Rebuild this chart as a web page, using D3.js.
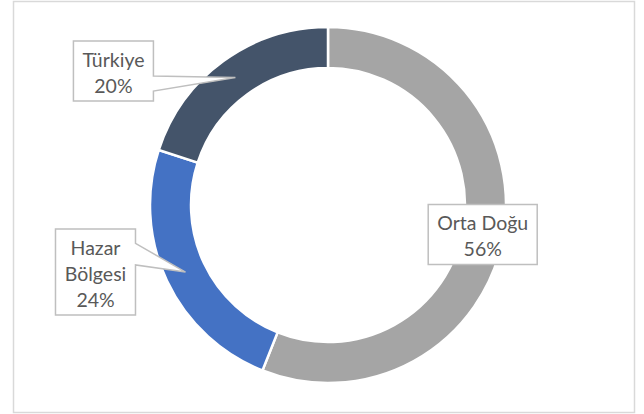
<!DOCTYPE html>
<html>
<head>
<meta charset="utf-8">
<script src="https://cdn.jsdelivr.net/npm/d3@7"></script>
<style>
  body { margin: 0; background: #fff; }
  svg { display: block; }
  .lbl text { font-family: Lato, "Open Sans", sans-serif; font-size: 19.5px; fill: #595959; }
</style>
</head>
<body>
<div class="chart"></div>
<script>
// data
const regions = ["Orta Doğu", "Hazar Bölgesi", "Türkiye"];
const shares = [56, 24, 20];
const labelLines = [["Orta Doğu", "56%"], ["Hazar", "Bölgesi", "24%"], ["Türkiye", "20%"]];
const colors = ["#A5A5A5", "#4472C4", "#44546A"];

// callout offsets from slice centroid (layout only)
const labelShift = [[0, 0], [-90, 0], [-122, -6.5]];

const w = 644, h = 414;
const cx = 328, cy = 205;
const outerR = 178, innerR = 137;

const svg = d3.select(".chart").append("svg")
  .attr("width", w)
  .attr("height", h);

svg.append("rect")
  .attr("x", 13.5).attr("y", 1.5)
  .attr("width", 621).attr("height", 411)
  .attr("fill", "#fff")
  .attr("stroke", "#D9D9D9")
  .attr("stroke-width", 1.5);

const g = svg.append("g").attr("transform", "translate(" + cx + "," + cy + ")");

const data = regions.map((r, i) => ({name: r, value: shares[i], lines: labelLines[i], color: colors[i], shift: labelShift[i]}));

const pie = d3.pie().value(d => d.value).sort(null);
const arc = d3.arc().innerRadius(innerR).outerRadius(outerR);

const arcs = pie(data);

g.selectAll(".slice")
  .data(arcs)
  .enter().append("path")
  .attr("class", "slice")
  .attr("d", arc)
  .attr("fill", d => d.data.color)
  .attr("stroke", "#fff")
  .attr("stroke-width", 2.5);

// callout labels (Excel wedgeRectCallout style)
const lineH = 26;

arcs.forEach(a => {
  const tip = arc.centroid(a);
  const lines = a.data.lines;

  const lbl = g.append("g").attr("class", "lbl");
  const texts = lines.map(t => lbl.append("text").text(t).attr("text-anchor", "middle"));
  const tw = d3.max(texts, t => t.node().getComputedTextLength());

  const bw = Math.round(tw + 18);
  const bh = lines.length * lineH + 8;
  const bcx = tip[0] + a.data.shift[0];
  const bcy = tip[1] + a.data.shift[1];
  const x0 = bcx - bw / 2, y0 = bcy - bh / 2;

  const dx = tip[0] - bcx, dy = tip[1] - bcy;
  let pts;
  if (Math.abs(dx) < 1 && Math.abs(dy) < 1) {
    pts = [[x0, y0], [x0 + bw, y0], [x0 + bw, y0 + bh], [x0, y0 + bh]];
  } else {
    const yg1 = dy > 0 ? 7 : 2, yg2 = dy > 0 ? 10 : 5;
    const y1 = y0 + bh * yg1 / 12, y2 = y0 + bh * yg2 / 12;
    pts = [[x0, y0], [x0 + bw, y0], [x0 + bw, y1], tip, [x0 + bw, y2], [x0 + bw, y0 + bh], [x0, y0 + bh]];
  }

  lbl.insert("polygon", "text")
    .attr("points", pts.map(p => p.join(",")).join(" "))
    .attr("fill", "#fff")
    .attr("stroke", "#BFBFBF")
    .attr("stroke-width", 1.5);

  texts.forEach((t, i) => t.attr("x", bcx).attr("y", y0 + 25.5 + i * lineH));
});
</script>
</body>
</html>
